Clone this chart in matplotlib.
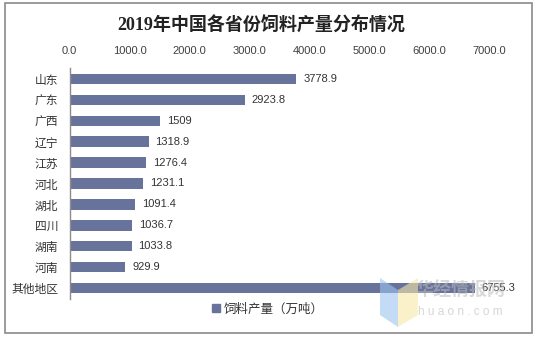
import matplotlib
matplotlib.use("Agg")
import matplotlib.pyplot as plt
from matplotlib.patches import Rectangle, Polygon

plt.rcParams['font.family'] = ['Liberation Sans', 'Noto Sans CJK SC', 'DejaVu Sans']

title = "2019年中国各省份饲料产量分布情况"
categories = ["山东", "广东", "广西", "辽宁", "江苏", "河北", "湖北", "四川", "湖南", "河南", "其他地区"]
values = [3778.9, 2923.8, 1509, 1318.9, 1276.4, 1231.1, 1091.4, 1036.7, 1033.8, 929.9, 6755.3]
value_labels = ["3778.9", "2923.8", "1509", "1318.9", "1276.4", "1231.1", "1091.4", "1036.7", "1033.8", "929.9", "6755.3"]
xticks = [0, 1000, 2000, 3000, 4000, 5000, 6000, 7000]
xtick_labels = ["0.0", "1000.0", "2000.0", "3000.0", "4000.0", "5000.0", "6000.0", "7000.0"]
series_name = "饲料产量（万吨）"

W, H = 536, 337
fig = plt.figure(figsize=(W / 100, H / 100), dpi=100)
fig.patch.set_facecolor("white")

# outer border
fig.patches.append(Rectangle((4.5 / W, 1 - 332.5 / H), 527 / W, 330 / H,
                             transform=fig.transFigure, fill=False,
                             edgecolor="#8a8a8a", linewidth=1.2))

ax = fig.add_axes([69.5 / W, 1 - 298.5 / H, 420 / W, 230 / H])
bar_color = "#67739A"
y = list(range(len(categories)))
ax.barh(y, values, height=0.5, color=bar_color, label=series_name, zorder=2)
ax.set_ylim(len(categories) - 0.5, -0.5)
ax.set_xlim(0, 7000)

ax.xaxis.tick_top()
ax.set_xticks(xticks)
ax.set_xticklabels(xtick_labels, fontsize=8, color="#404040", family=['Liberation Sans'])
ax.tick_params(axis='x', length=0, pad=9)
ax.set_yticks(y)
ax.set_yticklabels(categories, fontsize=8.5, color="#333333", family=['Noto Sans CJK SC'])
ax.tick_params(axis='y', length=0, pad=8)

for s in ["top", "right", "bottom"]:
    ax.spines[s].set_visible(False)
ax.spines["left"].set_color("#8c8c8c")
ax.spines["left"].set_linewidth(1.0)

for yi, v, lab in zip(y, values, value_labels):
    ax.annotate(lab, (v, yi), xytext=(5, 0), textcoords="offset points",
                va="center", ha="left", fontsize=8, color="#333333",
                family=['Liberation Sans'], zorder=5)

fig.text(261 / W, 1 - 25.5 / H, title, ha="center", va="center", fontsize=13,
         fontweight="bold", color="#222222", family=['Liberation Serif', 'Noto Sans CJK SC'])

leg = fig.legend(handles=[Rectangle((0, 0), 1, 1, color=bar_color)], labels=[series_name],
                 loc="center", bbox_to_anchor=(268 / W, 1 - 309 / H), frameon=False,
                 handlelength=0.6, handleheight=0.6, handletextpad=0.3,
                 prop={'family': 'Noto Sans CJK SC', 'size': 9})
for t in leg.get_texts():
    t.set_color("#333333")

# watermark
fig.patches.append(Polygon([(380 / W, 1 - 278 / H), (398 / W, 1 - 290 / H), (398 / W, 1 - 327 / H), (380 / W, 1 - 315 / H)],
                           closed=True, transform=fig.transFigure, facecolor="#9ec3f0", alpha=0.6, edgecolor="none", zorder=10))
fig.patches.append(Polygon([(398 / W, 1 - 290 / H), (418 / W, 1 - 278 / H), (418 / W, 1 - 315 / H), (398 / W, 1 - 327 / H)],
                           closed=True, transform=fig.transFigure, facecolor="#f7e7a6", alpha=0.6, edgecolor="none", zorder=10))
fig.text(461 / W, 1 - 290 / H, "华经情报网", ha="center", va="center", fontsize=13, fontweight="bold",
         color="#bbbbbb", alpha=0.55, family=['Noto Sans CJK SC'], zorder=11)
fig.text(460 / W, 1 - 312 / H, "h u a o n . c o m", ha="center", va="center", fontsize=8.5,
         color="#bbbbbb", alpha=0.6, family=['Liberation Sans'], zorder=11)

fig.savefig("out.png", dpi=100, facecolor="white")
